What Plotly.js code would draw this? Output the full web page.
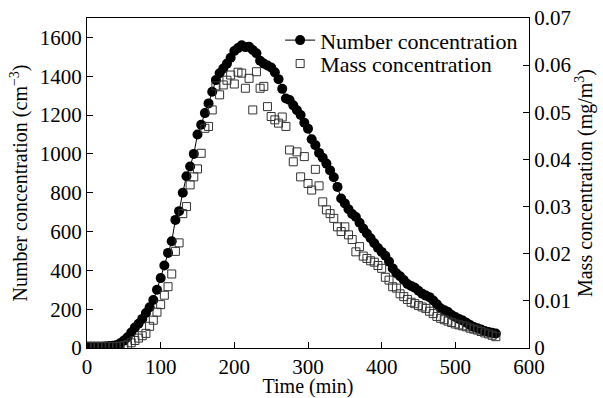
<!DOCTYPE html>
<html>
<head>
<meta charset="utf-8">
<script src="https://cdn.plot.ly/plotly-3.0.1.min.js"></script>
<style>html,body{margin:0;padding:0;background:#fff;}#chart{width:603px;height:398px;}</style>
</head>
<body>
<div id="chart"></div>
<script>
var time = [0,5,10,15,20,25,30,35,40,45,50,55,60,65,70,75,80,85,90,95,100,105,110,115,120,125,130,135,140,145,150,155,160,165,170,175,180,185,190,195,200,205,210,215,220,225,230,235,240,245,250,255,260,265,270,275,280,285,290,295,300,305,310,315,320,325,330,335,340,345,350,355,360,365,370,375,380,385,390,395,400,405,410,415,420,425,430,435,440,445,450,455,460,465,470,475,480,485,490,495,500,505,510,515,520,525,530,535,540,545,550,555];
var numberConc = [8,8,8,8,8,9,10,12,15,24,38,55,80,105,125,150,180,210,247,300,360,425,490,550,660,705,800,885,935,1000,1100,1150,1210,1260,1320,1380,1415,1440,1465,1495,1530,1545,1560,1550,1552,1535,1518,1480,1465,1455,1445,1420,1385,1335,1285,1278,1250,1225,1200,1160,1130,1075,1045,1005,980,950,915,880,830,770,745,715,690,675,645,615,590,565,540,515,495,475,445,410,385,370,350,330,320,310,295,280,270,262,245,225,205,195,185,170,160,150,142,130,118,108,102,95,88,82,78,75];
var massConc = [0.0003,0.0003,0.0003,0.0003,0.0003,0.0003,0.0003,0.0003,0.0003,0.0004,0.0005,0.0007,0.0011,0.0016,0.0021,0.0026,0.0031,0.0046,0.0059,0.0076,0.0092,0.0112,0.0130,0.0157,0.0205,0.0223,0.0285,0.0300,0.0346,0.0363,0.0380,0.0413,0.0466,0.0470,0.0505,0.0556,0.0537,0.0558,0.0568,0.0579,0.0560,0.0585,0.0583,0.0551,0.0572,0.0505,0.0586,0.0551,0.0555,0.0512,0.0491,0.0484,0.0477,0.0490,0.0470,0.0420,0.0395,0.0416,0.0363,0.0406,0.0349,0.0335,0.0379,0.0344,0.0310,0.0293,0.0285,0.0275,0.0257,0.0247,0.0257,0.0240,0.0230,0.0204,0.0215,0.0195,0.0190,0.0185,0.0182,0.0175,0.0169,0.0150,0.0144,0.0130,0.0127,0.0115,0.0109,0.0103,0.0097,0.0094,0.0090,0.0087,0.0084,0.0078,0.0073,0.0067,0.0063,0.0060,0.0057,0.0054,0.0051,0.0049,0.0047,0.0045,0.0042,0.0040,0.0038,0.0035,0.0032,0.0030,0.0027,0.0024];
var xTicks = [0,100,200,300,400,500,600];
var yTicks = [0,200,400,600,800,1000,1200,1400,1600];
var y2Ticks = [0,0.01,0.02,0.03,0.04,0.05,0.06,0.07];
var y2Labels = ['0','0.01','0.02','0.03','0.04','0.05','0.06','0.07'];

var fam = '"Liberation Serif", "Times New Roman", serif';
var tickFont = {family: fam, size: 21, color: '#000'};
var titleFont = {family: fam, size: 20, color: '#000'};
var legendFont = {family: fam, size: 22, color: '#000'};

var traces = [
  {
    x: time, y: numberConc, type: 'scatter', mode: 'lines+markers',
    name: 'Number concentration', legend: 'legend',
    line: {color: '#000', width: 1},
    marker: {symbol: 'circle', size: 10, color: '#000'}
  },
  {
    x: time, y: massConc, yaxis: 'y2', type: 'scatter', mode: 'markers',
    name: 'Mass concentration', legend: 'legend2',
    marker: {symbol: 'square-open', size: 8, color: '#333', line: {width: 1, color: '#333'}}
  }
];

var layout = {
  width: 603, height: 398,
  margin: {l: 87, r: 74, t: 18, b: 50},
  paper_bgcolor: '#fff', plot_bgcolor: '#fff',
  font: tickFont,
  showlegend: true,
  legend: {x: 0.437, y: 0.996, xanchor: 'left', yanchor: 'top', bgcolor: 'rgba(0,0,0,0)',
           font: legendFont, itemwidth: 30},
  legend2: {x: 0.437, y: 0.925, xanchor: 'left', yanchor: 'top', bgcolor: 'rgba(0,0,0,0)',
           font: legendFont, itemwidth: 30},
  xaxis: {
    range: [0, 600], tickvals: xTicks, ticktext: xTicks.map(String),
    ticks: 'inside', ticklen: 6, tickcolor: '#000', tickwidth: 1,
    showline: true, linecolor: '#000', linewidth: 1, mirror: true,
    showgrid: false, zeroline: false,
    title: {text: 'Time (min)', font: titleFont, standoff: 5},
    tickfont: tickFont
  },
  yaxis: {
    range: [0, 1700], tickvals: yTicks, ticktext: yTicks.map(String),
    ticks: 'inside', ticklen: 6, tickcolor: '#000', tickwidth: 1,
    showline: true, linecolor: '#000', linewidth: 1,
    showgrid: false, zeroline: false,
    title: {text: 'Number concentration (cm<sup>−3</sup>)', font: titleFont, standoff: 6},
    tickfont: tickFont
  },
  yaxis2: {
    range: [0, 0.07], tickvals: y2Ticks, ticktext: y2Labels,
    overlaying: 'y', side: 'right',
    ticks: 'inside', ticklen: 6, tickcolor: '#000', tickwidth: 1,
    showline: true, linecolor: '#000', linewidth: 1,
    showgrid: false, zeroline: false,
    title: {text: 'Mass concentration (mg/m<sup>3</sup>)', font: titleFont, standoff: 7},
    tickfont: tickFont
  }
};

Plotly.newPlot('chart', traces, layout, {displayModeBar: false, staticPlot: true});
</script>
</body>
</html>
